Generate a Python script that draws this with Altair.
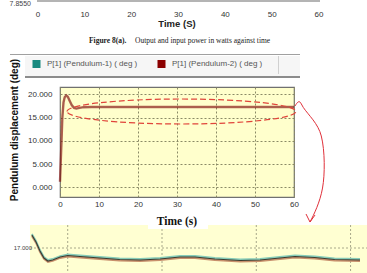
import altair as alt
import pandas as pd

# ---------------- data ----------------
series_names = ["P[1] (Pendulum-1) ( deg )", "P[1] (Pendulum-2) ( deg )"]
series_colors = ["#1a8a80", "#8b0000"]

time_s = [0, 0.3, 0.6, 0.9, 1.2, 1.6, 2.0, 2.5, 3.0, 3.6, 4.2, 5.0, 6.0, 8.0, 10, 15, 20, 25, 30, 35, 40, 45, 50, 55, 60]
pend1 = [1.2, 8.0, 15.0, 18.3, 19.4, 19.8, 19.5, 18.6, 17.7, 17.1, 16.95, 17.1, 17.25, 17.3, 17.3, 17.3, 17.3, 17.3, 17.3, 17.3, 17.3, 17.3, 17.3, 17.3, 17.3]
pend2 = [1.2, 8.0, 15.0, 18.3, 19.4, 19.8, 19.5, 18.6, 17.7, 17.1, 16.95, 17.1, 17.25, 17.3, 17.3, 17.3, 17.3, 17.3, 17.3, 17.3, 17.3, 17.3, 17.3, 17.3, 17.3]

x_ticks = [0, 10, 20, 30, 40, 50, 60]
y_ticks = [0, 5, 10, 15, 20]
top_ticks = [0, 10, 20, 30, 40, 50, 60]

# zoomed inset (detail of the steady part)
inset_t = [0.2, 0.64, 1.06, 1.48, 1.9, 2.4, 3.2, 4.0, 5.3, 7.4, 9.5, 11.7, 13.8, 15.9, 17.5, 19.6, 22.3, 24.4, 26.5, 28.1, 30.2, 32.3, 35.0]
inset_v = [17.13, 17.06, 16.97, 16.90, 16.87, 16.88, 16.91, 16.925, 16.915, 16.90, 16.885, 16.88, 16.89, 16.91, 16.91, 16.89, 16.875, 16.88, 16.90, 16.915, 16.905, 16.885, 16.88]
inset_grid_t = [4, 14, 24, 34]
inset_ref = [17.0]

# ---------------- layout ----------------
W, H = 234, 110
PAD = {"left": 60, "top": 87, "right": 73, "bottom": 76}
one = pd.DataFrame({"k": [0]})
SANS = "Liberation Sans"
SERIF = "Liberation Serif"

main_df = pd.DataFrame({"t": time_s, "p1": pend1, "p2": pend2})
xs = alt.Scale(domain=[0, 60], nice=False, zero=False)
ys = alt.Scale(domain=[-2.1, 21.6], nice=False, zero=False)

x_axis = alt.Axis(values=x_ticks, title=None, grid=True, gridDash=[2, 2], gridColor="#8a8a66",
                  ticks=False, domain=False, labelFlush=False, labelFont=SANS, labelFontSize=8,
                  labelColor="#333333", labelPadding=3)
y_axis = alt.Axis(values=y_ticks, format=".3f", title=None, grid=True, gridDash=[2, 2], gridColor="#8a8a66",
                  ticks=False, domain=False, labelFont=SANS, labelFontSize=8,
                  labelColor="#333333", labelPadding=8)

line1 = alt.Chart(main_df).mark_line(color=series_colors[0], strokeWidth=1.5, opacity=0.2).encode(
    x=alt.X("t:Q", scale=xs, axis=x_axis), y=alt.Y("p1:Q", scale=ys, axis=y_axis))
line2 = alt.Chart(main_df).mark_line(color=series_colors[1], strokeWidth=2.4, opacity=0.6).encode(
    x=alt.X("t:Q", scale=xs, axis=None), y=alt.Y("p2:Q", scale=ys, axis=None))

# dashed ellipse annotation (custom symbol path)
b = 0.109
kb = 0.5523 * b
ELLIPSE = (f"M-1,0 C-1,{-kb:.4f} -0.5523,{-b} 0,{-b} C0.5523,{-b} 1,{-kb:.4f} 1,0 "
           f"C1,{kb:.4f} 0.5523,{b} 0,{b} C-0.5523,{b} -1,{kb:.4f} -1,0 Z")
ellipse = alt.Chart(one).mark_point(shape=ELLIPSE, size=229 ** 2, filled=False, color="#e0443a",
                                     strokeWidth=1.2, strokeDash=[6, 3], opacity=1).encode(
    x=alt.value(121.5), y=alt.value(24.5))

ARROW = ("M-0.234,-0.903 C-0.20,-0.96 -0.17,-1.0 -0.14,-0.95 L-0.10,-0.88 "
         "C-0.02,-0.76 0.14,-0.62 0.19,-0.42 C0.25,-0.18 0.25,0.2 0.21,0.42 "
         "C0.17,0.65 0.07,0.85 0.008,0.968 M-0.056,0.839 L0.008,0.968 L0.089,0.855")
arrow = alt.Chart(one).mark_point(shape=ARROW, size=124 ** 2, filled=False, color="#e0303a",
                                   strokeWidth=1, opacity=1).encode(
    x=alt.value(249.5), y=alt.value(75))


def rect(x, x2, y, y2, fill):
    return alt.Chart(one).mark_rect(fill=fill, opacity=1).encode(
        x=alt.value(x), x2=alt.value(x2), y=alt.value(y), y2=alt.value(y2))


def text(t, x, y, **kw):
    return alt.Chart(one).mark_text(text=t, **kw).encode(x=alt.value(x), y=alt.value(y))


# titles
y_title = text("Pendulum displacement (deg)", -45, 43, angle=270, font=SANS, fontSize=10,
               fontWeight="bold", color="#111111", align="center", baseline="middle")
x_title_box = rect(88, 148, 129, 142, "#ffffff")
x_title = text("Time (s)", 117, 135, font=SERIF, fontSize=11.5, fontWeight="bold",
               color="#111111", align="center", baseline="middle")

# top: remnant of previous figure
top_bar = rect(-23, 260, -87, -85, "#b4b4b4")
top_val = text("7.8550", -29, -83, font=SANS, fontSize=7, color="#444444", align="right", baseline="middle")
top_ticks_df = pd.DataFrame({"v": top_ticks})
top_labels = alt.Chart(top_ticks_df).mark_text(font=SANS, fontSize=8, color="#333333", baseline="middle").encode(
    x=alt.X("v:Q", scale=alt.Scale(domain=[0, 60], range=[-22, 259], nice=False, zero=False), axis=None),
    y=alt.value(-72), text="v:Q")
top_title = text("Time (S)", 117, -63, font=SANS, fontSize=9.5, fontWeight="bold", color="#222222",
                 align="center", baseline="middle")
cap1 = text("Figure 8(a).", 29, -46, font=SERIF, fontSize=7.5, fontWeight="bold", color="#222222",
            align="left", baseline="middle")
cap2 = text("Output and input power in watts against time", 75, -46, font=SERIF, fontSize=7.5,
            color="#222222", align="left", baseline="middle")

# legend strip
leg_top = rect(-50, 240, -33, -32, "#a0a0a0")
leg_box = rect(-35, 240, -31, -11, "#f6f6f6")
leg_bot = rect(-35, 240, -11, -9, "#8c8c8c")
leg_sep = rect(218, 219, -31, -13, "#d0d0d0")
leg_df = pd.DataFrame({"name": series_names})
leg_x = alt.X("name:N", scale=alt.Scale(type="point", domain=series_names, range=[-23.5, 101.5], padding=0), axis=None)
leg_sq = alt.Chart(leg_df).mark_square(size=64, filled=True, opacity=1).encode(
    x=leg_x, y=alt.value(-23),
    color=alt.Color("name:N", scale=alt.Scale(domain=series_names, range=series_colors), legend=None))
leg_txt = alt.Chart(leg_df).mark_text(align="left", dx=10.5, font=SANS, fontSize=8, color="#555555",
                                       baseline="middle").encode(
    x=leg_x, y=alt.value(-23), text="name:N")

# inset
ixs = alt.Scale(domain=[0, 35], range=[-30, 300], nice=False, zero=False)
iys = alt.Scale(domain=[16.75, 17.23], range=[186, 138], nice=False, zero=False)
inset_df = pd.DataFrame({"t": inset_t, "v": inset_v})
inset_bg = rect(-30, 307, 138, 186, "#ffffd2")
inset_vgrid = alt.Chart(pd.DataFrame({"g": inset_grid_t})).mark_rule(color="#a8a88a", strokeDash=[2, 2]).encode(
    x=alt.X("g:Q", scale=ixs, axis=None), y=alt.value(138), y2=alt.value(186))
inset_hgrid = alt.Chart(pd.DataFrame({"r": inset_ref})).mark_rule(color="#a8a88a", strokeDash=[2, 2]).encode(
    y=alt.Y("r:Q", scale=iys, axis=None), x=alt.value(-30), x2=alt.value(307))
inset_lbl = text("17.000", -28, 161, font=SANS, fontSize=6, color="#444444", align="right", baseline="middle")


def inset_line(color, width, yoff):
    return alt.Chart(inset_df).mark_line(color=color, strokeWidth=width, yOffset=yoff).encode(
        x=alt.X("t:Q", scale=ixs, axis=None), y=alt.Y("v:Q", scale=iys, axis=None))


inset_l1 = inset_line("#c8906c", 1.8, 1)
inset_l2 = inset_line("#86ccb8", 1.8, -1)
inset_l3 = inset_line("#3c3c30", 1.2, 0)

chart = alt.layer(
    line1, line2, ellipse, arrow,
    y_title,
    top_bar, top_val, top_labels, top_title, cap1, cap2,
    leg_top, leg_box, leg_bot, leg_sep, leg_sq, leg_txt,
    inset_bg, inset_vgrid, inset_hgrid, inset_lbl, inset_l1, inset_l2, inset_l3,
    x_title_box, x_title,
).resolve_scale(x="independent", y="independent", color="independent").properties(
    width=W, height=H, autosize=alt.AutoSizeParams(type="none"), padding=PAD,
    background="#ffffff",
).configure_view(fill="#ffffcc", stroke="#707070", strokeWidth=1.2)

chart.save("out.html", embed_options={"renderer": "svg", "actions": False})
